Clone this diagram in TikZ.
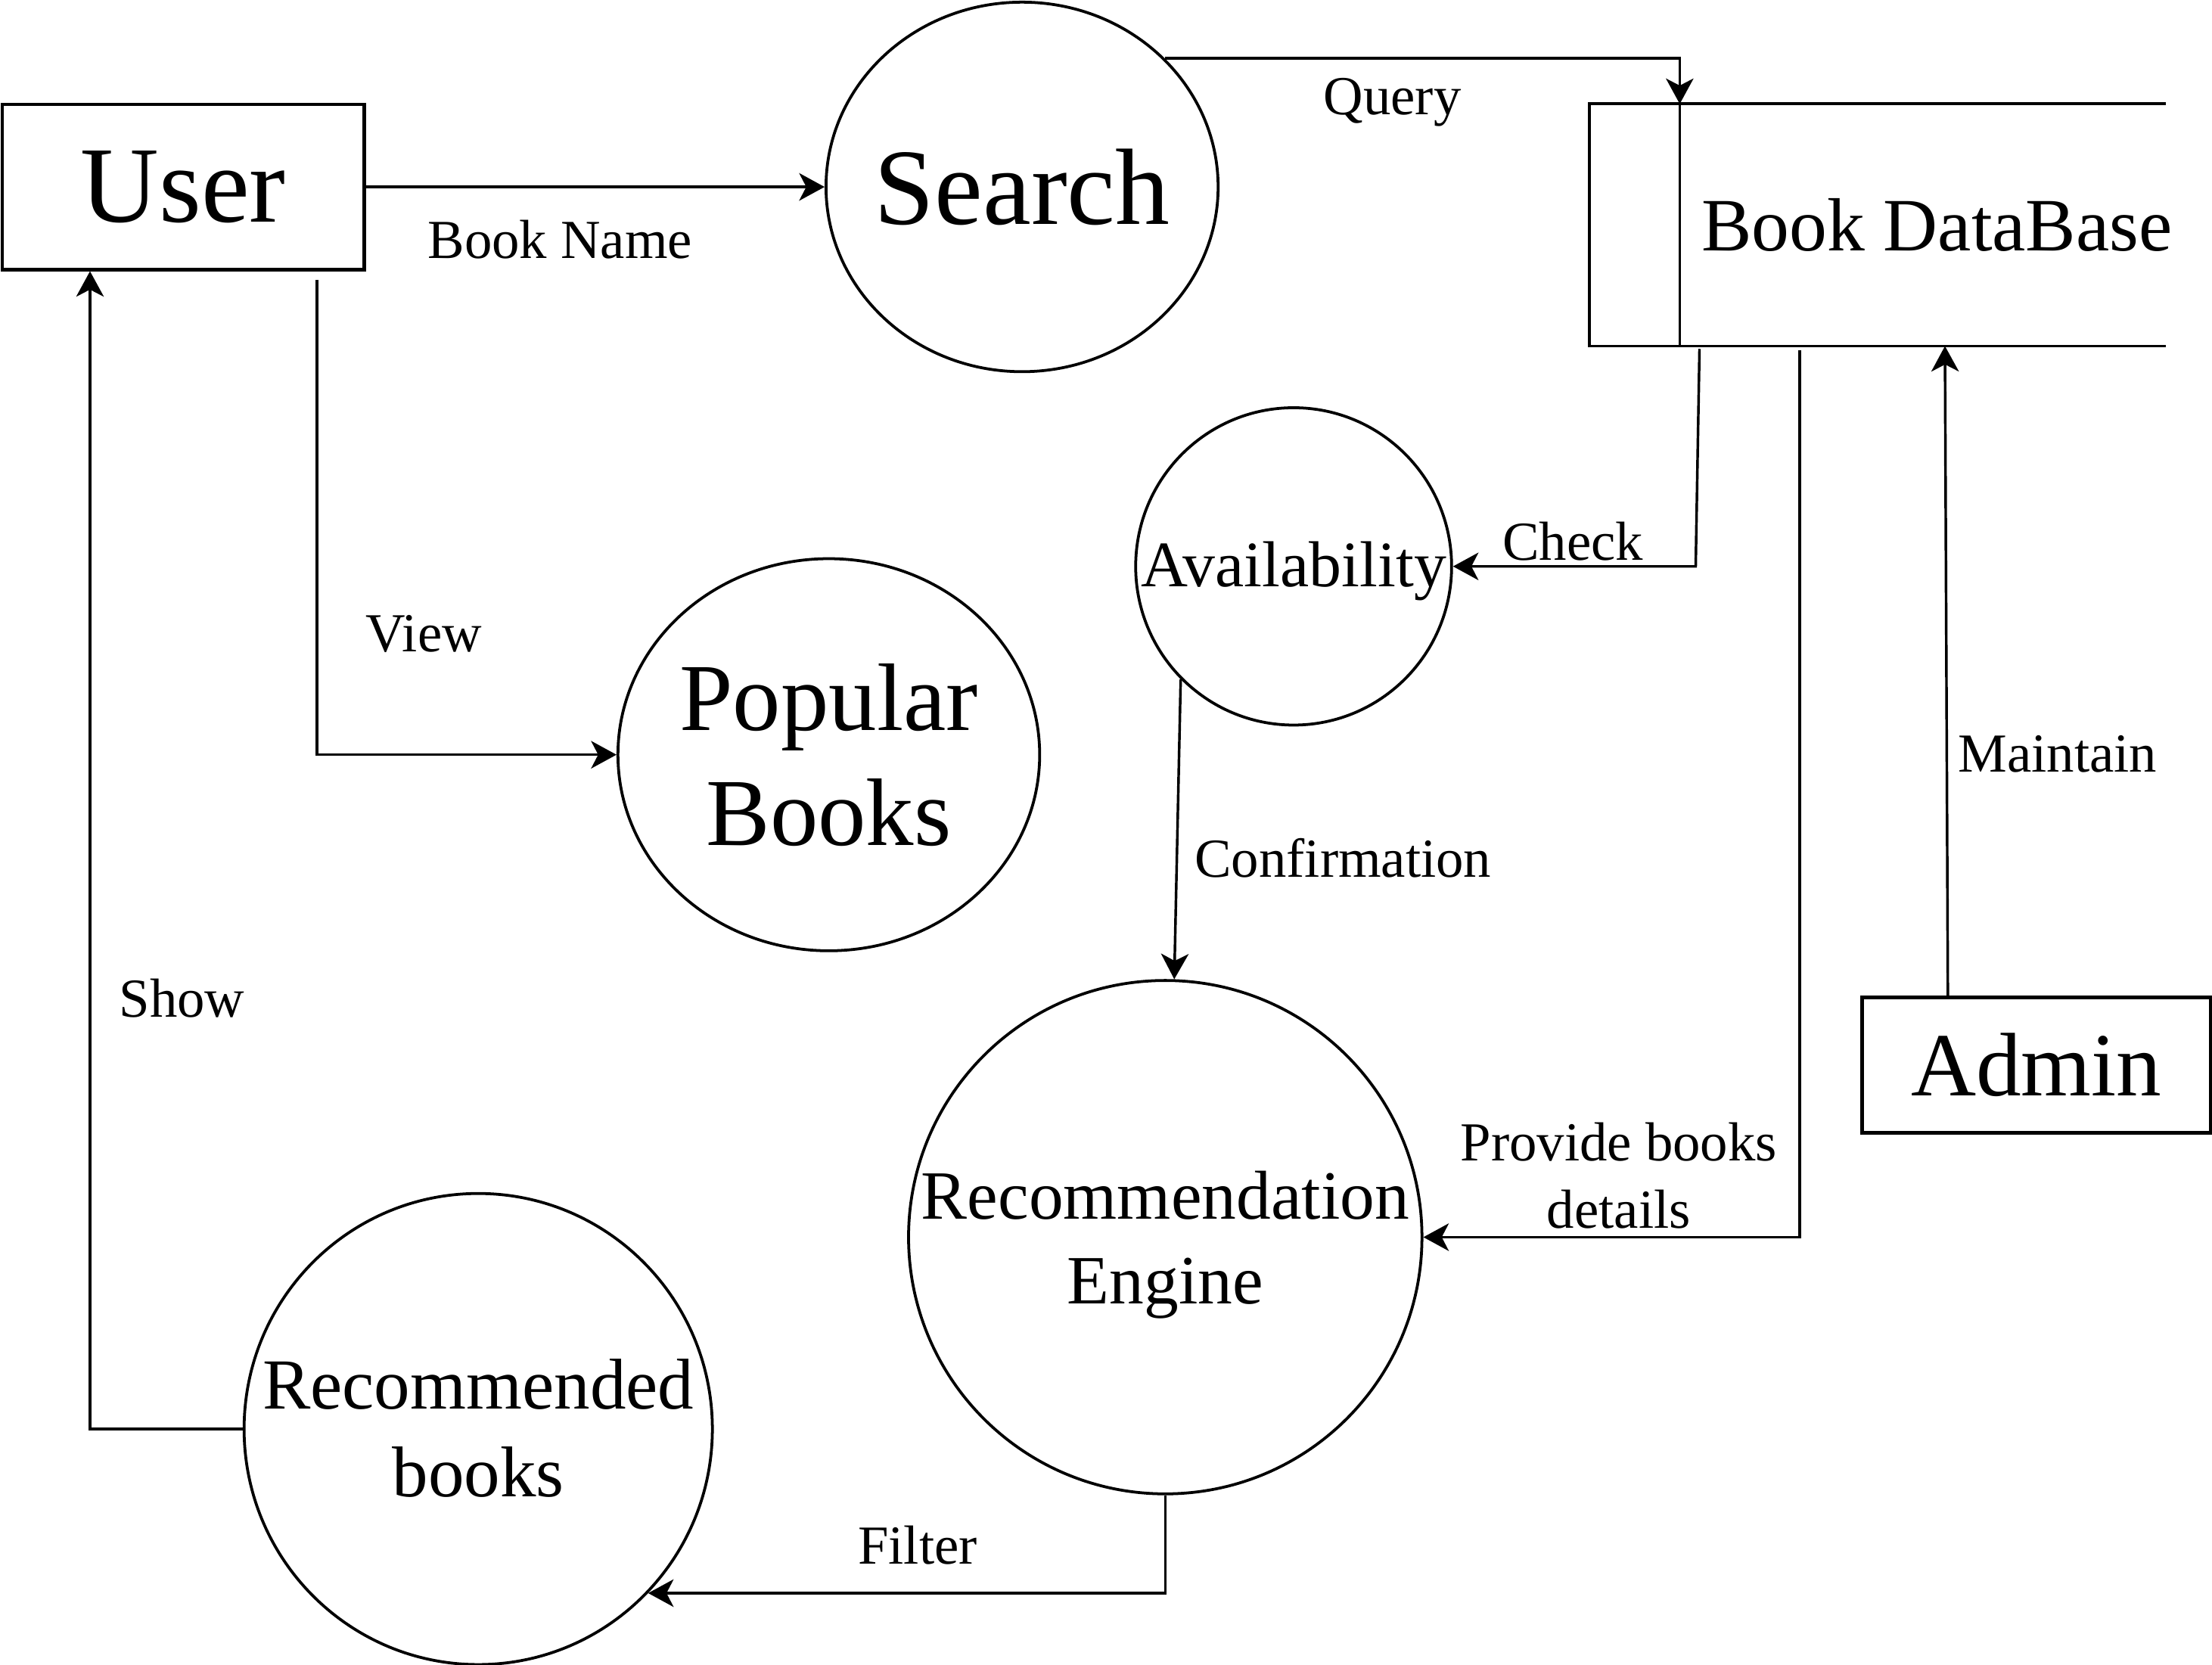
\documentclass[tikz,border=0pt]{standalone}
\usepackage{fontspec}
\setmainfont{Liberation Serif}
\usetikzlibrary{shapes.geometric,arrows.meta,calc}
\tikzset{
  conn/.style={line width=1.05pt, -{Stealth[length=0.36cm,width=0.39cm,inset=0.1cm]}},
  proc/.style={ellipse, draw, line width=1.15pt, inner sep=0pt},
  ent/.style={rectangle, draw, line width=1.45pt, inner sep=0pt},
  dbline/.style={line width=1.15pt},
  txt/.style={inner sep=0pt, anchor=base},
  lbl/.style={inner sep=0pt, anchor=base, font=\fontsize{22.2pt}{27pt}\selectfont},
  bigfont/.style={font=\fontsize{43.8pt}{52pt}\selectfont}
}
\begin{document}
\begin{tikzpicture}[x=0.02cm,y=-0.02cm]
\useasboundingbox (0,0) rectangle (1568,1180);

% entities
\node[ent, bigfont, minimum width=5.13cm, minimum height=2.34cm] (user) at (129.8,132.5) {User};
\node[ent, font=\fontsize{36.4pt}{44pt}\selectfont, minimum width=4.94cm, minimum height=1.92cm] (admin) at (1443.5,755) {Admin};

% data store
\node[inner sep=0pt, minimum width=8.16cm, minimum height=3.42cm] (db) at (1331,159.5) {};
\coordinate (dbinT) at ($(db.north west)+(64,0)$);
\coordinate (dbinB) at ($(db.south west)+(64,0)$);
\draw[dbline] (db.north east) -- (db.north west) -- (db.south west) -- (db.south east);
\draw[dbline] (dbinT) -- (dbinB);
\node[txt, font=\fontsize{30.4pt}{36pt}\selectfont] (dbT) at (1373,178) {Book DataBase};

% processes
\node[proc, minimum width=5.56cm, minimum height=5.24cm] (search) at (724.5,132.5) {};
\node[txt, bigfont] (searchT) at (724.5,159) {Search};

\node[proc, minimum width=5.98cm, minimum height=5.56cm] (popular) at (587.5,535) {};
\node[inner sep=0pt, align=center, font=\fontsize{38.7pt}{46.4pt}\selectfont] (popularT) at (587.5,535) {Popular\\Books};

\node[proc, minimum width=4.48cm, minimum height=4.5cm] (avail) at (917,401.5) {};
\node[txt, font=\fontsize{26.2pt}{31pt}\selectfont] (availT) at (917,415.6) {Availability};

\node[proc, minimum width=7.28cm, minimum height=7.28cm] (receng) at (826,877) {};
\node[inner sep=0pt, align=center, font=\fontsize{27.9pt}{34.1pt}\selectfont] (recengT) at (826,882.5) {Recommendation\\Engine};

\node[proc, minimum width=6.64cm, minimum height=6.68cm] (recbooks) at (339,1013) {};
\node[inner sep=0pt, align=center, font=\fontsize{29pt}{35.3pt}\selectfont] (recbooksT) at (339,1012.6) {Recommended\\books};

% connector end points
\coordinate (vstart) at ($(user.south west)+(224.5,6)$);
\coordinate (cstart) at ($(db.south west)+(78,2)$);
\coordinate (ccorner) at (1202,401.5);
\coordinate (pstart) at ($(db.south west)+(149,3)$);
\coordinate (mstart) at ($(admin.north west)+(62,0)$);
\coordinate (mend) at ($(db.south west)+(252,0)$);
\coordinate (send) at ($(user.south west)+(63.5,0)$);

% connectors
\draw[conn] (user.east) -- (search.west);
\draw[conn] (search.42.8) -| (dbinT);
\draw[conn] (vstart) |- (popular.west);
\draw[conn] (cstart) -- (ccorner) -- (avail.east);
\draw[conn] (avail.225.4) -- (receng.88.2);
\draw[conn] (pstart) |- (receng.east);
\draw[conn] (mstart) -- (mend);
\draw[conn] (receng.south) |- (recbooks.-44.7);
\draw[conn] (recbooks.west) -| (send);

% labels
\node[lbl] (lbook) at (397,183) {Book Name};
\node[lbl] (lquery) at (987,81) {Query};
\node[lbl] (lview) at (300.5,462) {View};
\node[lbl] (lcheck) at (1115,397) {Check};
\node[lbl] (lconf) at (952,622) {Confirmation};
\node[lbl] (lmaint) at (1458.5,547) {Maintain};
\node[lbl] (lshow) at (129,721) {Show};
\node[lbl, anchor=center, align=center] (lprov) at (1147.5,833.5) {Provide books\\details};
\node[lbl] (lfilter) at (650.5,1108.5) {Filter};
\end{tikzpicture}
\end{document}
